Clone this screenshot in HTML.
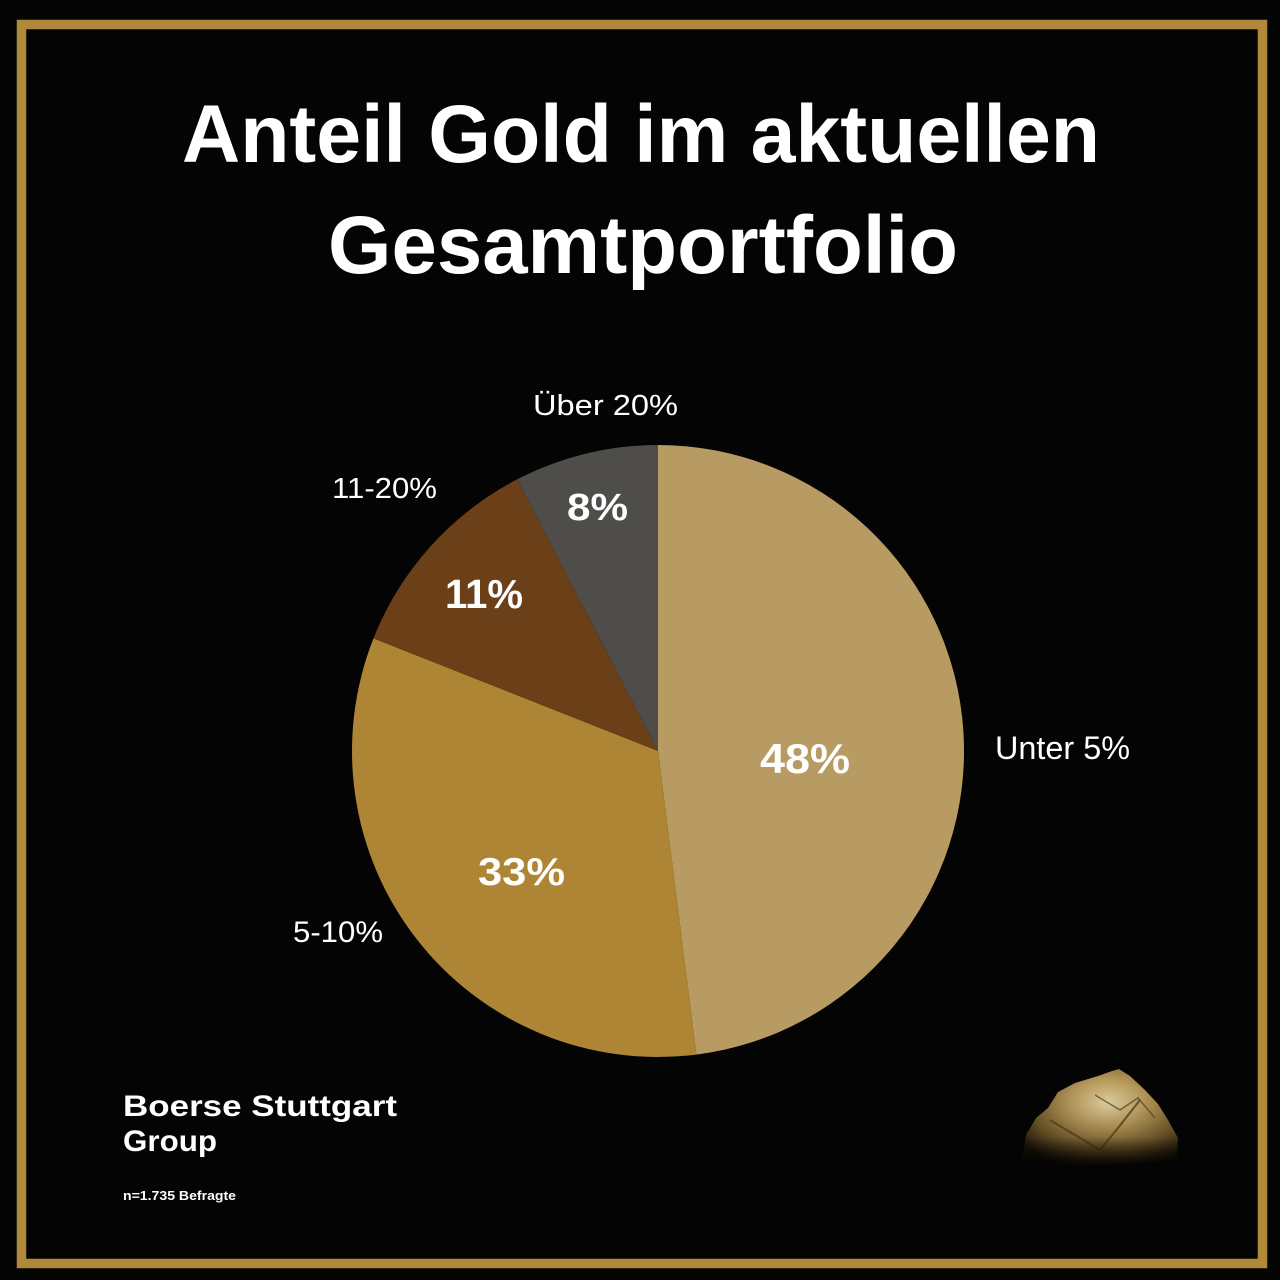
<!DOCTYPE html>
<html>
<head>
<meta charset="utf-8">
<style>
  html,body{margin:0;padding:0;background:#040404;}
  svg{display:block;}
</style>
</head>
<body>
<svg width="1280" height="1280" viewBox="0 0 1280 1280" xmlns="http://www.w3.org/2000/svg">
  <defs>
    <radialGradient id="nug" cx="0.55" cy="0.35" r="0.7">
      <stop offset="0" stop-color="#e6d6a4"/>
      <stop offset="0.35" stop-color="#b8995a"/>
      <stop offset="0.7" stop-color="#6e5628"/>
      <stop offset="1" stop-color="#1a1408"/>
    </radialGradient>
    <linearGradient id="nugShade" x1="0" y1="0" x2="0" y2="1">
      <stop offset="0" stop-color="#000" stop-opacity="0"/>
      <stop offset="0.7" stop-color="#000" stop-opacity="0.1"/>
      <stop offset="1" stop-color="#000" stop-opacity="0.85"/>
    </linearGradient>
  </defs>

  <rect x="0" y="0" width="1280" height="1280" fill="#040404"/>
  <!-- gold frame -->
  <rect x="21.5" y="24.5" width="1241" height="1239" fill="none" stroke="#b08a3a" stroke-width="9.5"/>

  <!-- title -->
  <text x="182" y="162" font-family="Liberation Sans, sans-serif" font-weight="bold" font-size="82" fill="#ffffff" textLength="918" lengthAdjust="spacingAndGlyphs">Anteil Gold im aktuellen</text>
  <text x="328" y="273" font-family="Liberation Sans, sans-serif" font-weight="bold" font-size="82" fill="#ffffff" textLength="630" lengthAdjust="spacingAndGlyphs">Gesamtportfolio</text>

  <!-- pie -->
  <path d="M658,751 L658,445 A306,306 0 0 1 696.35,1054.59 Z" fill="#b89b62"/>
  <path d="M658,751 L696.35,1054.59 A306,306 0 0 1 373.49,638.36 Z" fill="#ae8534"/>
  <path d="M658,751 L373.49,638.36 A306,306 0 0 1 517.2,479.3 Z" fill="#6b3f17"/>
  <path d="M658,751 L517.2,479.3 A306,306 0 0 1 658,445 Z" fill="#4f4d49"/>

  <!-- slice values -->
  <g font-family="Liberation Sans, sans-serif" font-weight="bold" fill="#ffffff">
    <text x="760" y="773" font-size="42" textLength="90" lengthAdjust="spacingAndGlyphs">48%</text>
    <text x="478" y="885" font-size="39" textLength="87" lengthAdjust="spacingAndGlyphs">33%</text>
    <text x="445" y="608" font-size="41" textLength="78" lengthAdjust="spacingAndGlyphs">11%</text>
    <text x="567" y="520" font-size="38" textLength="61" lengthAdjust="spacingAndGlyphs">8%</text>
  </g>

  <!-- category labels -->
  <g font-family="Liberation Sans, sans-serif" fill="#ffffff">
    <text x="995" y="759" font-size="32" textLength="135" lengthAdjust="spacingAndGlyphs">Unter 5%</text>
    <text x="293" y="942" font-size="30" textLength="90" lengthAdjust="spacingAndGlyphs">5-10%</text>
    <text x="332" y="498" font-size="29" textLength="105" lengthAdjust="spacingAndGlyphs">11-20%</text>
    <text x="533" y="415" font-size="29" textLength="145" lengthAdjust="spacingAndGlyphs">Über 20%</text>
  </g>

  <!-- logo -->
  <g font-family="Liberation Sans, sans-serif" font-weight="bold" fill="#ffffff">
    <text x="123" y="1116" font-size="30" textLength="274" lengthAdjust="spacingAndGlyphs">Boerse Stuttgart</text>
    <text x="123" y="1151" font-size="30" textLength="94" lengthAdjust="spacingAndGlyphs">Group</text>
    <text x="123" y="1200" font-size="13" textLength="113" lengthAdjust="spacingAndGlyphs">n=1.735 Befragte</text>
  </g>

  <!-- gold nugget -->
  <g>
    <polygon points="1022,1160 1026,1135 1036,1118 1048,1108 1058,1092 1075,1083 1098,1076 1112,1071 1119,1069 1130,1076 1145,1090 1158,1104 1168,1120 1178,1138 1177,1160 1150,1162 1110,1164 1070,1166 1040,1165" fill="url(#nug)"/>
    <polyline points="1050,1120 1075,1135 1100,1150 1118,1128 1140,1100" fill="none" stroke="#5a3e1a" stroke-width="2" opacity="0.8"/>
    <polyline points="1095,1095 1120,1110 1138,1098 1155,1118" fill="none" stroke="#5a3e1a" stroke-width="1.5" opacity="0.7"/>
    <polygon points="1022,1160 1026,1135 1036,1118 1048,1108 1058,1092 1075,1083 1098,1076 1112,1071 1119,1069 1130,1076 1145,1090 1158,1104 1168,1120 1178,1138 1177,1160 1150,1162 1110,1164 1070,1166 1040,1165" fill="url(#nugShade)"/>
  </g>
</svg>
</body>
</html>
